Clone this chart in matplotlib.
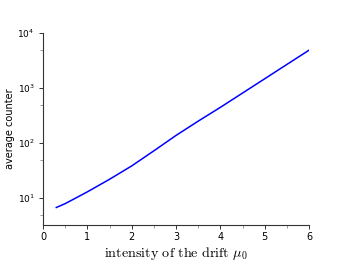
import numpy as np
import matplotlib
matplotlib.use("Agg")
import matplotlib.pyplot as plt
from matplotlib.ticker import FixedLocator, NullFormatter

# drift intensity vs average counter
mu0 = [0.3, 0.5, 1.0, 1.5, 2.0, 2.5, 3.0, 3.5, 4.0, 4.5, 5.0, 5.5, 6.0]
counter = [6.76, 7.94, 13.0, 22.0, 38.5, 72.4, 138, 251, 447, 813, 1479, 2692, 4898]

xticks = [0, 1, 2, 3, 4, 5, 6]

plt.rcParams['mathtext.fontset'] = 'cm'

fig = plt.figure(figsize=(3.54, 2.67), dpi=100)
ax = fig.add_axes([0.1215, 0.157, 0.7515, 0.719])

ax.plot(mu0, counter, color='#0000ff', lw=1.1)

ax.set_yscale('log')
ax.set_xlim(0, 6)
ax.set_ylim(10 ** 0.51, 1e4)
ax.set_xticks(xticks)
ax.xaxis.set_minor_locator(FixedLocator(np.arange(0.5, 6, 1.0)))
ax.yaxis.set_minor_locator(FixedLocator([5, 50, 500, 5000]))
ax.yaxis.set_minor_formatter(NullFormatter())

for s in ['top', 'right']:
    ax.spines[s].set_visible(False)
for s in ['left', 'bottom']:
    ax.spines[s].set_color('#333333')
    ax.spines[s].set_linewidth(0.8)

ax.tick_params(which='major', direction='out', length=3, width=0.7,
               colors='#333333', labelsize=7, labelcolor='black', pad=2)
ax.tick_params(axis='y', which='major', pad=3, labelsize=6.5)
ax.tick_params(which='minor', direction='out', length=2, width=0.6,
               colors='#888888')

ax.set_xlabel(r'$\mathrm{intensity\ of\ the\ drift}\ \mu_0$', fontsize=10.2, labelpad=2)
ax.set_ylabel('average counter', fontsize=7)
ax.yaxis.set_label_coords(-0.105, 0.5)

fig.savefig('out.png', dpi=100)
